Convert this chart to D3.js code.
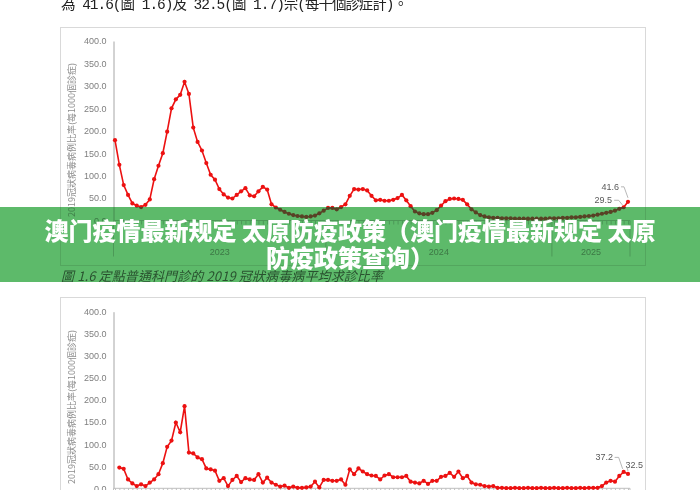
<!DOCTYPE html>
<html><head><meta charset="utf-8">
<script src="https://cdn.jsdelivr.net/npm/d3@7"></script>
<style>html,body{margin:0;padding:0;background:#fff;}svg{display:block;}</style>
</head><body>
<script>
// ---- data ----
const yearLabels = ["2023", "2024", "2025"];
const weeksPerYear = [49, 52, 18];
const firstWeek = [4, 1, 1];
const yTicks = [0, 50, 100, 150, 200, 250, 300, 350, 400];
// Fig 1.6 weekly rate (per 1000 consultations), starts at first week
const values1 = [179,124,79,57,38,33,30,35,47,92,
  122,150,198,250,270,280,309,282,207,175,
  156,128,102,91,70,58,51,49,57,65,
  72,56,54,65,75,69,36,29,24,19,
  15,12,10,9,8,9,11,16,22,28,
  28,25,30,36,55,70,69,70,67,55,
  45,46,44,44,46,50,57,45,32,20,
  16,14,14,17,23,33,43,48,49,48,
  46,36,25,18,12,9,7,6,6,5,
  5,5,4,4,4,4,4,4,4,4,
  5,5,5,6,6,7,7,8,9,10,
  11,13,15,17,19,22,26,29.5,41.6];
// Fig 1.7 weekly rate, starts one week later
const values2 = [47,44,20,11,5,9,5,13,20,32,
  57,94,108,149,127,186,81,79,70,66,
  45,43,40,17,23,5,19,28,14,23,
  20,19,32,13,24,13,8,4,6,1,
  4,1,1,2,4,15,2,19,19,17,
  17,20,8,43,32,45,38,32,29,28,
  20,29,32,25,25,25,28,15,13,11,
  17,10,17,17,26,28,35,26,38,23,
  28,13,9,8,5,4,5,1,1,0.5,
  0.5,1,0.5,0.5,1,0.5,0.5,1,0.5,0.5,
  1,0.5,0.5,1,0.5,0.5,1,0.5,1,1,
  1,5,13,17,15,28,37.2,32.5];
const annot1 = [{i: 118, text: "41.6"}, {i: 117, text: "29.5"}];
const annot2 = [{i: 116, text: "37.2"}, {i: 117, text: "32.5"}];
const topText = "為 41.6(圖 1.6)及 32.5(圖 1.7)宗(每千個診症計)。";
const caption1 = "圖 1.6  定點普通科門診的 2019 冠狀病毒病平均求診比率";
const yTitle = "2019冠狀病毒病例比率(每1000個診症)";
const bannerLines = ["澳门疫情最新规定 太原防疫政策（澳门疫情最新规定 太原", "防疫政策查询）"];

// categories built from the year/week structure
const weeks = [];
yearLabels.forEach((y, k) => { for (let w = 0; w < weeksPerYear[k]; w++) weeks.push(y + "-W" + (firstWeek[k] + w)); });
const data1 = values1.map((v, i) => ({wk: weeks[i], v}));
const data2 = values2.map((v, i) => ({wk: weeks[i + 1], v}));

// ---- drawing ----
const W = 700, H = 490;
const svg = d3.select("body").append("svg").attr("width", W).attr("height", H);
const cjk = "'Noto Sans CJK TC', 'Noto Sans CJK SC', sans-serif";
const sans = "'Liberation Sans', Arial, sans-serif";

svg.append("text").attr("x", 61).attr("y", 9)
  .attr("font-family", "'Liberation Mono', 'Noto Sans CJK TC', monospace").attr("font-size", 14.5)
  .attr("textLength", 347).attr("lengthAdjust", "spacing")
  .attr("fill", "#222").text(topText);

const x = d3.scalePoint().domain(weeks).range([115, 628]);
const step = x.step();
const red = "#ec1111";

function chart(cfg) {
  const g = svg.append("g");
  g.append("rect").attr("x", 60.5).attr("y", cfg.boxTop).attr("width", 585).attr("height", cfg.boxH)
    .attr("fill", "#fff").attr("stroke", "#d9d9d9");
  const y = d3.scaleLinear().domain([0, 400]).range([cfg.y0, cfg.y400]);
  const ya = g.append("g").attr("transform", "translate(113.5,0)")
    .call(d3.axisLeft(y).tickValues(yTicks).tickFormat(d3.format(".1f")).tickSize(0).tickPadding(7));
  ya.select(".domain").attr("stroke", "#a6a6a6");
  ya.selectAll("text").attr("font-family", sans).attr("font-size", 9).attr("fill", "#7f7f7f");
  const xa = g.append("g").attr("transform", `translate(0,${cfg.y0})`)
    .call(d3.axisBottom(x).tickFormat("").tickSize(4).tickSizeOuter(0));
  xa.select(".domain").attr("d", `M113.5,0H630`).attr("stroke", "#bfbfbf");
  xa.selectAll(".tick line").attr("stroke", "#bfbfbf");
  // year separators & labels
  let idx = 0;
  const bounds = [113.5];
  weeksPerYear.forEach((n) => { idx += n; bounds.push(idx < weeks.length ? x(weeks[idx]) - step / 2 : 630); });
  bounds.forEach(b => g.append("line").attr("x1", b).attr("x2", b).attr("y1", cfg.y0).attr("y2", cfg.y0 + 36)
    .attr("stroke", "#bfbfbf"));
  yearLabels.forEach((yl, k) => g.append("text").attr("x", (bounds[k] + bounds[k + 1]) / 2).attr("y", cfg.y0 + 34)
    .attr("text-anchor", "middle").attr("font-family", sans).attr("font-size", 9).attr("fill", "#7f7f7f").text(yl));
  // y title
  g.append("text").attr("transform", `translate(75,${cfg.titleY}) rotate(-90)`).attr("text-anchor", "middle")
    .attr("font-family", cjk).attr("font-size", 9).attr("fill", "#8c8c8c").text(yTitle);
  // line
  g.append("path").datum(cfg.data).attr("fill", "none").attr("stroke", red).attr("stroke-width", 1.6)
    .attr("d", d3.line().x(d => x(d.wk)).y(d => y(d.v)));
  g.selectAll("circle.pt").data(cfg.data).join("circle").attr("class", "pt")
    .attr("cx", d => x(d.wk)).attr("cy", d => y(d.v)).attr("r", 2.1).attr("fill", red);
  // annotations
  cfg.annot.forEach((a, k) => {
    const d = cfg.data[a.i];
    const px = x(d.wk), py = y(d.v);
    const o = cfg.offsets[k];
    g.append("text").attr("x", px + o.dx).attr("y", py + o.dy).attr("text-anchor", o.anchor)
      .attr("font-family", sans).attr("font-size", 9).attr("fill", "#595959").text(a.text);
    g.append("path").attr("fill", "none").attr("stroke", "#a6a6a6").attr("stroke-width", 0.8)
      .attr("d", `M${px + o.lx},${py + o.ly}L${px + o.mx},${py + o.ly}L${px + o.ex},${py + o.ey}`);
  });
}

chart({boxTop: 27.5, boxH: 238, y0: 220.5, y400: 41, titleY: 140, data: data1, annot: annot1,
  offsets: [{dx: -9, dy: -12, anchor: "end", lx: -7, ly: -15, mx: -4, ex: 0, ey: -4},
            {dx: -11.6, dy: -4, anchor: "end", lx: -9.5, ly: -7, mx: -5, ex: -1, ey: -2}]});
chart({boxTop: 297.5, boxH: 230, y0: 488.3, y400: 311.7, titleY: 407, data: data2, annot: annot2,
  offsets: [{dx: -10.6, dy: -11.4, anchor: "end", lx: -9, ly: -14.5, mx: -5, ex: -1, ey: -3},
            {dx: -2.6, dy: -6, anchor: "start", lx: -1, ly: -7, mx: -1, ex: 0, ey: -3}]});

// caption under banner
svg.append("text").attr("x", 61).attr("y", 281).attr("font-family", cjk).attr("font-style", "italic")
  .attr("font-size", 13).attr("textLength", 322).attr("lengthAdjust", "spacing")
  .attr("fill", "#333").text(caption1);

// banner overlay
svg.append("rect").attr("x", 0).attr("y", 207).attr("width", W).attr("height", 75)
  .attr("fill", "rgb(93,186,106)").style("mix-blend-mode", "multiply");
svg.append("rect").attr("x", 0).attr("y", 207).attr("width", W).attr("height", 75)
  .attr("fill", "rgb(93,186,106)").attr("opacity", 0.3);
bannerLines.forEach((t, k) => svg.append("text").attr("x", 350).attr("y", 239.5 + k * 27.5)
  .attr("text-anchor", "middle").attr("font-family", "'Noto Sans CJK SC', sans-serif").attr("font-weight", 900)
  .attr("font-size", 24).attr("fill", "#fff").text(t));
</script>
</body></html>
